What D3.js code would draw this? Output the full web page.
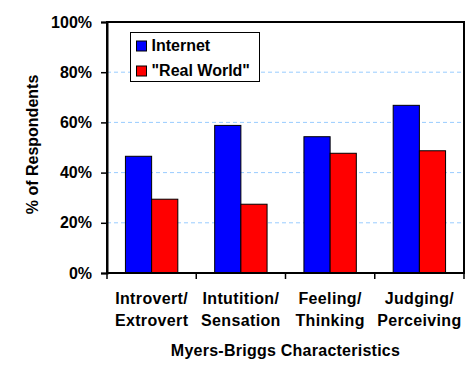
<!DOCTYPE html>
<html>
<head>
<meta charset="utf-8">
<script src="https://cdn.jsdelivr.net/npm/d3@7"></script>
<style>
  body { margin: 0; background: #fff; }
  text { font-family: Arial, "Liberation Sans", sans-serif; font-weight: bold; fill: #000; }
</style>
</head>
<body>
<div id="chart"></div>
<script>
// data
var categories = [["Introvert/", "Extrovert"], ["Intutition/", "Sensation"], ["Feeling/", "Thinking"], ["Judging/", "Perceiving"]];
var seriesNames = ["Internet", "\"Real World\""];
var internet = [46.5, 58.8, 54.3, 66.8];
var realWorld = [29.4, 27.4, 47.7, 48.7];
var yTicks = [0, 20, 40, 60, 80, 100];
var colors = ["#0000ff", "#ff0000"];

const width = 471
const height = 383
const margin = ({top: 22, right: 7, bottom: 110, left: 107})

var svg = d3.select('#chart').append('svg')
  .attr('width', width)
  .attr('height', height);

var x = d3.scaleBand()
  .domain(d3.range(categories.length))
  .range([margin.left, width - margin.right])
  .paddingInner(0.413)
  .paddingOuter(0.2065);

var x1 = d3.scaleBand()
  .domain(d3.range(seriesNames.length))
  .range([0, x.bandwidth()]);

var y = d3.scaleLinear()
  .domain([0, 100])
  .range([height - margin.bottom, margin.top]);

var plotW = width - margin.right - margin.left;

// gridlines
svg.append('g')
  .selectAll('line')
  .data(yTicks.filter(d => d > 0 && d < 100))
  .enter().append('line')
  .attr('x1', margin.left)
  .attr('x2', width - margin.right)
  .attr('y1', d => y(d))
  .attr('y2', d => y(d))
  .attr('stroke', '#99ccff')
  .attr('stroke-width', 1)
  .attr('stroke-dasharray', '4,3');

// bars
var data = categories.map((c, i) => [internet[i], realWorld[i]]);
var groups = svg.append('g').selectAll('g')
  .data(data)
  .enter().append('g')
  .attr('transform', (d, i) => `translate(${x(i)},0)`);

groups.selectAll('rect')
  .data(d => d)
  .enter().append('rect')
  .attr('x', (d, j) => x1(j))
  .attr('y', d => y(d))
  .attr('width', x1.bandwidth())
  .attr('height', d => y(0) - y(d))
  .attr('fill', (d, j) => colors[j])
  .attr('stroke', '#000')
  .attr('stroke-width', 1);

// frame
svg.append('rect')
  .attr('x', margin.left)
  .attr('y', margin.top)
  .attr('width', plotW)
  .attr('height', y(0) - margin.top)
  .attr('fill', 'none')
  .attr('stroke', '#000')
  .attr('stroke-width', 2);

// y axis
var yAxis = svg.append('g')
  .attr('transform', `translate(${margin.left},0)`)
  .call(d3.axisLeft(y).tickValues(yTicks).tickFormat(d => d + '%').tickSize(6).tickPadding(9));
yAxis.select('.domain').attr('stroke-width', 2);
yAxis.selectAll('.tick line').attr('stroke-width', 1.5);
yAxis.selectAll('text')
  .style('font-size', '16px')
  .style('font-family', 'Arial, "Liberation Sans", sans-serif')
  .style('font-weight', 'bold');

// x axis: ticks at category boundaries
svg.append('g').selectAll('line')
  .data(d3.range(categories.length + 1))
  .enter().append('line')
  .attr('x1', i => margin.left + i * (plotW / categories.length))
  .attr('x2', i => margin.left + i * (plotW / categories.length))
  .attr('y1', y(0))
  .attr('y2', y(0) + 6)
  .attr('stroke', '#000')
  .attr('stroke-width', 1.5);

var labels = svg.append('g').selectAll('text')
  .data(categories)
  .enter().append('text')
  .attr('text-anchor', 'middle')
  .style('font-size', '16px')
  .style('letter-spacing', '0.35px');
labels.each(function(d, i) {
  var t = d3.select(this);
  d.forEach((line, k) => {
    t.append('tspan')
      .attr('x', x(i) + x.bandwidth() / 2)
      .attr('y', y(0) + 31 + k * 22)
      .text(line);
  });
});

// axis titles
svg.append('text')
  .attr('x', margin.left + plotW / 2)
  .attr('y', 356)
  .attr('text-anchor', 'middle')
  .style('font-size', '16px')
  .style('letter-spacing', '0.25px')
  .text('Myers-Briggs Characteristics');

svg.append('text')
  .attr('transform', `translate(38, ${(margin.top + y(0)) / 2 - 3}) rotate(-90)`)
  .attr('text-anchor', 'middle')
  .style('font-size', '16px')
  .text('% of Respondents');

// legend
var legend = svg.append('g').attr('transform', 'translate(130.5,32.5)');
legend.append('rect')
  .attr('width', 129)
  .attr('height', 49)
  .attr('fill', '#fff')
  .attr('stroke', '#000')
  .attr('stroke-width', 1);
var items = legend.selectAll('g.item')
  .data(seriesNames)
  .enter().append('g')
  .attr('class', 'item')
  .attr('transform', (d, i) => `translate(6,${8.5 + i * 25})`);
items.append('rect')
  .attr('width', 10)
  .attr('height', 10)
  .attr('fill', (d, i) => colors[i])
  .attr('stroke', '#000');
items.append('text')
  .attr('x', 15)
  .attr('y', 10)
  .style('font-size', '16px')
  .text(d => d);
</script>
</body>
</html>
